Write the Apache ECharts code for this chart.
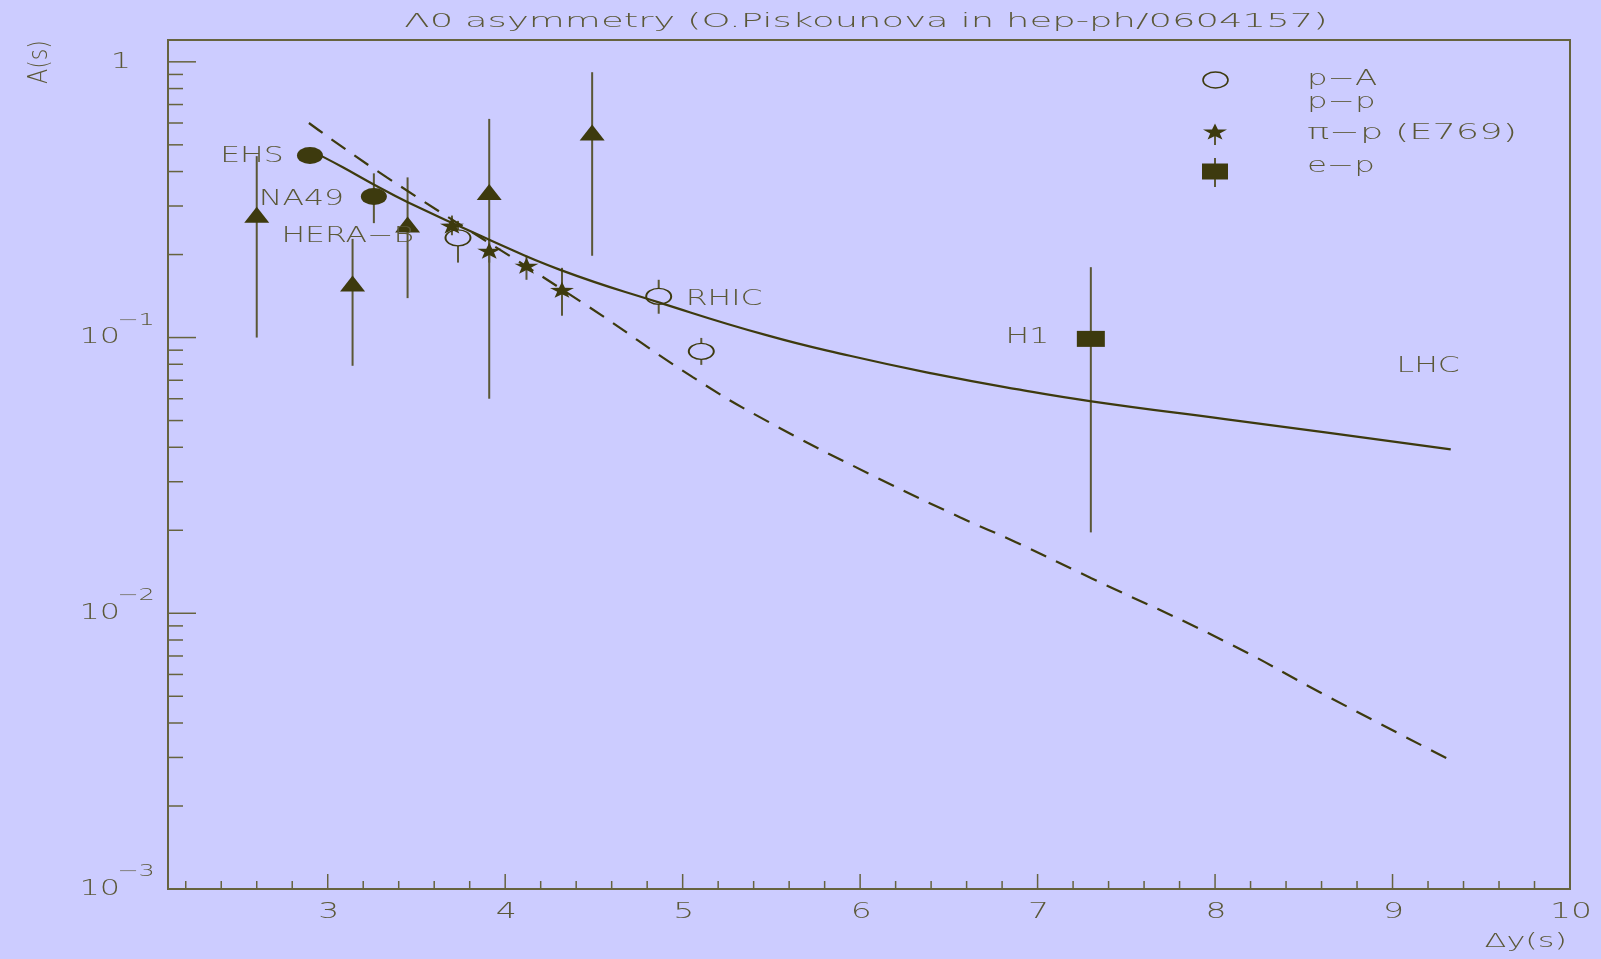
<!DOCTYPE html>
<html>
<head>
<meta charset="utf-8">
<script src="https://cdn.jsdelivr.net/npm/echarts@6/dist/echarts.min.js"></script>
<style>html,body{margin:0;padding:0;background:#ccccff;}#c{width:1601px;height:959px;}</style>
</head>
<body>
<div id="c"></div>
<script>
// ---------- data ----------
const X_MIN = 2.1, X_MAX = 10, Y_MIN = 0.001, Y_MAX = 1.2;

// p-p (filled triangles)
const ppX  = [2.60, 3.14, 3.45, 3.91, 4.49];
const ppY  = [0.279, 0.157, 0.257, 0.337, 0.554];
const ppLo = [0.100, 0.079, 0.139, 0.060, 0.198];
const ppHi = [0.455, 0.228, 0.381, 0.621, 0.917];

// EHS, NA49 (filled circles)
const fcX  = [2.90, 3.26];
const fcY  = [0.457, 0.325];
const fcLo = [0.457, 0.260];
const fcHi = [0.457, 0.394];

// p-A (open circles)
const paX  = [3.734, 4.865, 5.105];
const paY  = [0.230, 0.141, 0.0891];
const paLo = [0.187, 0.122, 0.0796];
const paHi = [0.265, 0.162, 0.0997];

// pi-p E769 (stars)
const stX  = [3.70, 3.91, 4.12, 4.32];
const stY  = [0.2547, 0.2066, 0.1823, 0.149];
const stLo = [0.235, 0.187, 0.162, 0.120];
const stHi = [0.277, 0.228, 0.198, 0.179];

// e-p H1 (square)
const epX  = [7.30];
const epY  = [0.0989];
const epLo = [0.01965];
const epHi = [0.180];

// solid curve
const solidX = [2.966, 3.085, 3.254, 3.454, 3.913, 4.31, 4.865, 5.472, 5.942, 6.411, 6.881, 7.304, 8.056, 8.632, 9.328];
const solidY = [0.455, 0.4145, 0.3607, 0.309, 0.226, 0.176, 0.1342, 0.1020, 0.0859, 0.0740, 0.0650, 0.0587, 0.0506, 0.0452, 0.0393];

// dashed curve
const dashX = [2.894, 3.333, 4.434, 5.059, 5.490, 6.092, 6.565, 6.881, 7.303, 8.057, 8.633, 9.328];
const dashY = [0.600, 0.381, 0.134, 0.0717, 0.0492, 0.0311, 0.02226, 0.01807, 0.0134, 0.0079, 0.00500, 0.00293];

// annotations (left edge, vertical centre)
const annX    = [2.394, 2.612, 2.739, 5.017, 6.819, 9.023];
const annY    = [0.4545, 0.3165, 0.2326, 0.1373, 0.0999, 0.0786];
const annText = ['EHS', 'NA49', 'HERA\u2212B', 'RHIC', 'H1', 'LHC'];

// ticks and tick labels
const xMajor = [3, 4, 5, 6, 7, 8, 9, 10];
const xTickLabels = ['3', '4', '5', '6', '7', '8', '9', '10'];
const xMinor = [2.2, 2.4, 2.6, 2.8, 3.2, 3.4, 3.6, 3.8, 4.2, 4.4, 4.6, 4.8, 5.2, 5.4, 5.6, 5.8,
                6.2, 6.4, 6.6, 6.8, 7.2, 7.4, 7.6, 7.8, 8.2, 8.4, 8.6, 8.8, 9.2, 9.4, 9.6, 9.8];
const yMajor = [0.001, 0.01, 0.1, 1];
const yTickBase = ['10', '10', '10', '1'];
const yTickSup  = ['\u22123', '\u22122', '\u22121', ''];
const yMinor = [0.002, 0.003, 0.004, 0.005, 0.006, 0.007, 0.008, 0.009,
                0.02, 0.03, 0.04, 0.05, 0.06, 0.07, 0.08, 0.09,
                0.2, 0.3, 0.4, 0.5, 0.6, 0.7, 0.8, 0.9];

const TITLE = '\u039B0 asymmetry (O.Piskounova in hep-ph/0604157)';
const legendText = ['p\u2212A', 'p\u2212p', '\u03C0\u2212p (E769)', 'e\u2212p'];

// ---------- styling ----------
const INK = '#3d3a0e', TXT = '#5b5838', FRAME = '#66633f';
const FAM = "'DejaVu Sans', sans-serif";
const fnt = (s) => '200 ' + s + 'px ' + FAM;
const STAR = 'path://M0,-10L2.35,-3.24L9.51,-3.09L3.8,1.24L5.88,8.09L0,4L-5.88,8.09L-3.8,1.24L-9.51,-3.09L-2.35,-3.24Z';

function txt(text, x, y, size, align, va, sx, extra) {
  return Object.assign({
    type: 'text', x: x, y: y, scaleX: sx,
    style: { text: text, x: 0, y: 0, font: fnt(size), fill: TXT,
             align: align, textAlign: align, verticalAlign: va, textVerticalAlign: va }
  }, extra || {});
}

function zip(xs, ys) { return xs.map((x, i) => [x, ys[i]]); }

function errSeries(xs, ys, los, his, gap) {
  return {
    type: 'custom', coordinateSystem: 'cartesian2d', clip: false, silent: true, z: 2,
    data: xs.map((x, i) => [x, los[i], his[i], ys[i]]),
    renderItem: function (params, api) {
      const x = api.value(0), lo = api.value(1), hi = api.value(2), y = api.value(3);
      const pl = api.coord([x, lo]), ph = api.coord([x, hi]), pc = api.coord([x, y]);
      const st = { stroke: '#5a5736', lineWidth: 2 };
      const ch = [];
      if (pc[1] - gap > ph[1]) ch.push({ type: 'line', shape: { x1: pc[0], y1: ph[1], x2: pc[0], y2: pc[1] - gap }, style: st });
      if (pl[1] > pc[1] + gap) ch.push({ type: 'line', shape: { x1: pc[0], y1: pc[1] + gap, x2: pc[0], y2: pl[1] }, style: st });
      return { type: 'group', children: ch };
    }
  };
}

function tickSeries(values, axis, len) {
  return {
    type: 'custom', coordinateSystem: 'cartesian2d', clip: false, silent: true, z: 5,
    data: values.map(v => [v]),
    renderItem: function (params, api) {
      const v = api.value(0);
      const st = { stroke: FRAME, lineWidth: 1.5 };
      if (axis === 'x') {
        const p = api.coord([v, Y_MIN]);
        return { type: 'line', shape: { x1: p[0], y1: p[1], x2: p[0], y2: p[1] - len }, style: st };
      }
      const p = api.coord([X_MIN, v]);
      return { type: 'line', shape: { x1: p[0], y1: p[1], x2: p[0] + len, y2: p[1] }, style: st };
    }
  };
}

const series = [
  // curves
  { type: 'line', data: zip(solidX, solidY), smooth: 0.5, showSymbol: false, symbol: 'none', silent: true, z: 3,
    lineStyle: { color: INK, width: 2.2 } },
  { type: 'line', data: zip(dashX, dashY), smooth: 0.5, showSymbol: false, symbol: 'none', silent: true, z: 3,
    lineStyle: { color: INK, width: 2.2, type: [17, 11] } },
  // error bars
  errSeries(ppX, ppY, ppLo, ppHi, 0),
  errSeries(fcX, fcY, fcLo, fcHi, 0),
  errSeries(paX, paY, paLo, paHi, 8),
  errSeries(stX, stY, stLo, stHi, 0),
  errSeries(epX, epY, epLo, epHi, 0),
  // markers
  { name: 'p\u2212p', type: 'scatter', data: zip(ppX, ppY), symbol: 'triangle', symbolSize: [25, 16], z: 4,
    itemStyle: { color: INK, opacity: 1 } },
  { name: 'EHS/NA49', type: 'scatter', data: zip(fcX, fcY), symbol: 'circle', symbolSize: [26, 17], z: 4,
    itemStyle: { color: INK, opacity: 1 } },
  { name: 'p\u2212A', type: 'scatter', data: zip(paX, paY), symbol: 'circle', symbolSize: [25, 16], z: 4,
    itemStyle: { color: 'rgba(0,0,0,0)', borderColor: INK, borderWidth: 1.6, opacity: 1 } },
  { name: '\u03C0\u2212p (E769)', type: 'scatter', data: zip(stX, stY), symbol: STAR, symbolSize: [24, 16], z: 4,
    itemStyle: { color: INK, opacity: 1 } },
  { name: 'e\u2212p', type: 'scatter', data: zip(epX, epY), symbol: 'rect', symbolSize: [28, 16], z: 4,
    itemStyle: { color: INK, opacity: 1 } },
  // annotations
  { type: 'custom', coordinateSystem: 'cartesian2d', clip: false, silent: true, z: 6,
    data: annX.map((x, i) => [x, annY[i], i]),
    renderItem: function (params, api) {
      const p = api.coord([api.value(0), api.value(1)]);
      return txt(annText[api.value(2)], p[0], p[1], 21, 'left', 'middle', 1.5);
    } },
  // ticks
  tickSeries(xMajor, 'x', 15),
  tickSeries(xMinor, 'x', 8),
  tickSeries(yMajor, 'y', 28),
  tickSeries(yMinor, 'y', 15),
  // x tick labels
  { type: 'custom', coordinateSystem: 'cartesian2d', clip: false, silent: true, z: 6,
    data: xMajor.map((v, i) => [v, i]),
    renderItem: function (params, api) {
      const p = api.coord([api.value(0), Y_MIN]);
      return txt(xTickLabels[api.value(1)], p[0] + 1, p[1] + 23, 22, 'center', 'middle', 1.5);
    } },
  // y tick labels
  { type: 'custom', coordinateSystem: 'cartesian2d', clip: false, silent: true, z: 6,
    data: yMajor.map((v, i) => [X_MIN, v, i]),
    renderItem: function (params, api) {
      const i = api.value(2);
      const p = api.coord([X_MIN, api.value(1)]);
      const ch = [];
      if (yTickSup[i]) {
        ch.push(txt(yTickBase[i], p[0] - 48, p[1], 22, 'right', 'middle', 1.45));
        ch.push(txt(yTickSup[i], p[0] - 51, p[1] - 17, 16, 'left', 'middle', 1.6));
      } else {
        ch.push(txt(yTickBase[i], p[0] - 37, p[1], 22, 'right', 'middle', 1.45));
      }
      return { type: 'group', children: ch };
    } }
];

function starPoints(cx, cy, w, h) {
  const pts = [[0,-10],[2.35,-3.24],[9.51,-3.09],[3.8,1.24],[5.88,8.09],[0,4],[-5.88,8.09],[-3.8,1.24],[-9.51,-3.09],[-2.35,-3.24]];
  return pts.map(q => [cx + q[0] / 19.02 * w, cy + (q[1] + 0.955) / 18.09 * h]);
}

const graphic = [
  txt(TITLE, 866, 22, 20, 'center', 'middle', 1.85),
  txt('A(s)', 40, 62, 26, 'center', 'middle', 0.85, { rotation: Math.PI / 2 }),
  txt('\u0394y(s)', 1567, 942, 20, 'right', 'middle', 1.6),
  // legend
  { type: 'ellipse', shape: { cx: 1215.5, cy: 80, rx: 12.5, ry: 8 }, style: { fill: 'none', stroke: INK, lineWidth: 1.6 } },
  txt(legendText[0], 1307, 80, 21, 'left', 'middle', 1.55),
  txt(legendText[1], 1307, 103, 21, 'left', 'middle', 1.55),
  { type: 'line', shape: { x1: 1215, y1: 132, x2: 1215, y2: 145 }, style: { stroke: '#5a5736', lineWidth: 2 } },
  { type: 'polygon', shape: { points: starPoints(1215, 131.5, 24, 16) }, style: { fill: INK } },
  txt(legendText[2], 1307, 134, 21, 'left', 'middle', 1.75),
  { type: 'line', shape: { x1: 1215, y1: 158, x2: 1215, y2: 187 }, style: { stroke: '#5a5736', lineWidth: 2 } },
  { type: 'rect', shape: { x: 1202, y: 163.5, width: 26, height: 16 }, style: { fill: INK } },
  txt(legendText[3], 1307, 167, 21, 'left', 'middle', 1.55)
];

const chart = echarts.init(document.getElementById('c'), null, { renderer: 'canvas' });
chart.setOption({
  animation: false,
  backgroundColor: '#ccccff',
  grid: { left: 168, top: 40, width: 1402, height: 849, show: true, borderColor: FRAME, borderWidth: 2,
          backgroundColor: 'transparent', containLabel: false },
  xAxis: { type: 'value', min: X_MIN, max: X_MAX, axisLine: { show: false }, axisTick: { show: false },
           axisLabel: { show: false }, splitLine: { show: false } },
  yAxis: { type: 'log', logBase: 10, min: Y_MIN, max: Y_MAX, axisLine: { show: false }, axisTick: { show: false },
           axisLabel: { show: false }, splitLine: { show: false } },
  graphic: graphic,
  series: series
});
</script>
</body>
</html>
